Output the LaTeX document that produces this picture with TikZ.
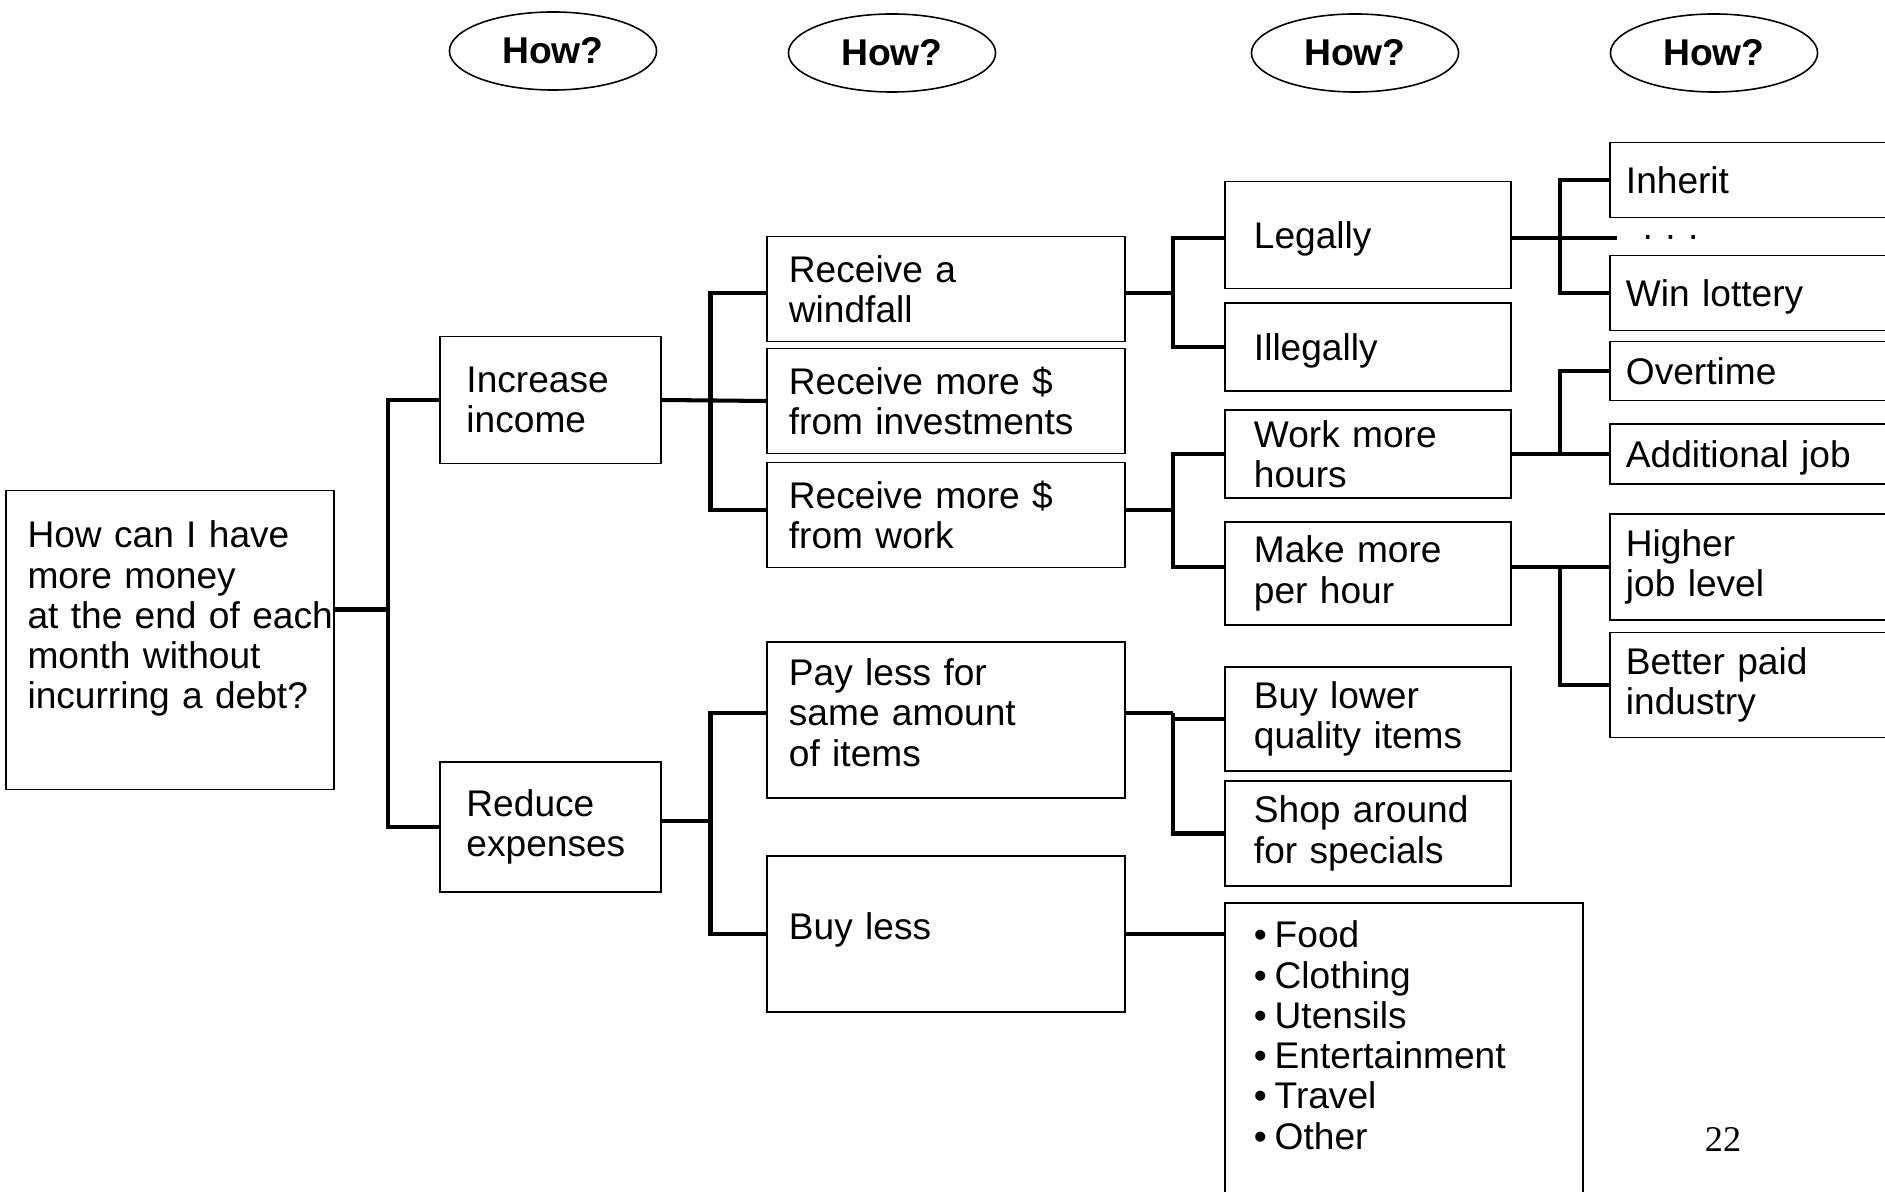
\documentclass[tikz,border=0pt]{standalone}
\usepackage{fontspec}
\setmainfont{Liberation Sans}
\newfontfamily\pagefont{Liberation Serif}
\usetikzlibrary{shapes.geometric}

\begin{document}
\begin{tikzpicture}[x=0.01cm, y=-0.01cm,
    every node/.style={font=\fontsize{10.55}{11.45}\selectfont},
    box/.style={draw, line width=0.5pt, align=left, inner ysep=0pt},
    rootbox/.style={box, minimum width=3.28cm, text width=2.848cm, inner xsep=0.216cm},
    lvla/.style={box, minimum width=2.21cm, text width=1.68cm, inner xsep=0.265cm},
    lvlb/.style={box, minimum width=3.58cm, text width=3.14cm, inner xsep=0.22cm},
    lvlc/.style={box, minimum width=2.86cm, text width=2.28cm, inner xsep=0.29cm},
    lvld/.style={box, minimum width=3.2cm, text width=2.88cm, inner xsep=0.16cm},
    flat/.style={text depth=0pt},
    how/.style={ellipse, draw, line width=0.45pt, minimum width=2.07cm, minimum height=0.78cm,
                font=\fontsize{10.6}{12}\selectfont\bfseries},
    link/.style={line width=1.15pt}]
    \useasboundingbox (0, 0) rectangle (1885, 1192);
    \clip (0, 0) rectangle (1885, 1192);

    % question marks on top
    \node[how] (how1) at (553, 51) {How?};
    \node[how] (how2) at (892, 53) {How?};
    \node[how] (how3) at (1355, 53) {How?};
    \node[how] (how4) at (1714, 53) {How?};

    \node[rootbox, minimum height=2.99cm] (root) at (170, 640)
        {How can I have\\ more money\\ \mbox{at the end of each}\\ month without\\ incurring a debt?\\ \rule[-0.1cm]{0pt}{0.1cm}};

    \node[lvla, minimum height=1.27cm] (inc) at (550.5, 400) {Increase\\ income};
    \node[lvla, minimum height=1.30cm] (red) at (550.5, 827) {Reduce\\ expenses};

    \node[lvlb, minimum height=1.05cm] (wind) at (946, 289) {Receive a\\ windfall};
    \node[lvlb, minimum height=1.05cm] (inv) at (946, 401) {Receive more \$\\ from investments};
    \node[lvlb, minimum height=1.05cm] (work) at (946, 515) {Receive more \$\\ from work};
    \node[lvlb, minimum height=1.56cm] (pay) at (946, 720) {Pay less for\\ same amount\\ of items\rule[-0.15cm]{0pt}{0.1cm}};
    \node[lvlb, minimum height=1.56cm] (buyless) at (946, 934) {Buy less\rule[-0.15cm]{0pt}{0.1cm}};

    \node[lvlc, flat, minimum height=1.07cm] (legal) at (1368, 235) {Legally};
    \node[lvlc, flat, minimum height=0.88cm] (illegal) at (1368, 347) {Illegally};
    \node[lvlc, minimum height=0.88cm] (hours) at (1368, 454) {Work more\\ hours};
    \node[lvlc, minimum height=1.03cm] (perhour) at (1368, 573.5) {Make more\\ per hour};
    \node[lvlc, minimum height=1.04cm] (lower) at (1368, 719) {Buy lower\\ quality items};
    \node[lvlc, minimum height=1.05cm] (shop) at (1368, 833.5) {Shop around\\ for specials};
    \node[box, anchor=north, minimum width=3.58cm, text width=3.0cm, inner xsep=0.29cm, inner ysep=0.18cm]
        (food) at (1404, 902) {•\kern0.21em Food\\ •\kern0.21em Clothing\\ •\kern0.21em Utensils\\
            •\kern0.21em Entertainment\\ •\kern0.21em Travel\\ •\kern0.21em Other\\ \rule{0pt}{1cm}};

    \node[lvld, minimum height=0.75cm] (inherit) at (1770, 180) {Inherit};
    \node[anchor=base west, inner xsep=0.31cm] (dots) at (1610, 248) {· · ·};
    \node[lvld, flat, minimum height=0.75cm] (lottery) at (1770, 293) {Win lottery};
    \node[lvld, minimum height=0.59cm] (overtime) at (1770, 371) {Overtime};
    \node[lvld, flat, minimum height=0.60cm] (addjob) at (1770, 454) {Additional job};
    \node[lvld, minimum height=1.06cm] (higher) at (1770, 567) {Higher\\ job level};
    \node[lvld, minimum height=1.05cm] (better) at (1770, 685) {Better paid\\ industry};

    % branch points
    \coordinate (b1) at (388, 609.5);
    \coordinate (b2) at (710.5, 400);
    \coordinate (b3) at (710.5, 821);
    \coordinate (b4) at (1173, 293);
    \coordinate (b5) at (1173, 510);
    \coordinate (b6) at (1173, 713);
    \coordinate (b7) at (1560, 238);
    \coordinate (b8) at (1560, 454);
    \coordinate (b9) at (1560, 567);

    \draw[link] (root.east |- b1) -- (b1);
    \draw[link] (inc.west) -| (b1) |- (red.west);

    \draw[link] (inc.east) -- (inv.west);
    \draw[link] (wind.west |- b4) -| (b2) |- (work.west |- b5);
    \draw[link] (red.east |- b3) -- (b3);
    \draw[link] (pay.west |- b6) -| (b3) |- (buyless.west);

    \draw[link] (wind.east |- b4) -- (b4);
    \draw[link] (legal.west |- b7) -| (b4) |- (illegal.west);
    \draw[link] (work.east |- b5) -- (b5);
    \draw[link] (hours.west) -| (b5) |- (perhour.west |- b9);
    \draw[link] (pay.east |- b6) -- (b6);
    \draw[link] (lower.west) -| (b6) |- (shop.west);
    \draw[link] (buyless.east) -- (buyless.east -| food.west);

    \draw[link] (legal.east |- b7) -- ([xshift=0.07cm]dots.west |- b7);
    \draw[link] (inherit.west) -| (b7) |- (lottery.west);
    \draw[link] (hours.east) -- (addjob.west);
    \draw[link] (overtime.west) -| (b8);
    \draw[link] (perhour.east |- b9) -- (higher.west);
    \draw[link] (b9) |- (better.west);

    % slide number
    \node[font=\pagefont\fontsize{10.3}{12}\selectfont] (page) at (1723, 1140) {22};
\end{tikzpicture}
\end{document}
